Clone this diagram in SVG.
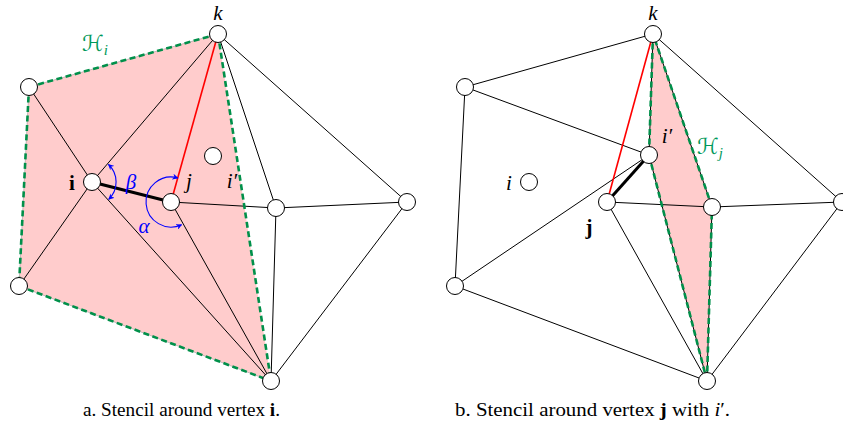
<svg xmlns="http://www.w3.org/2000/svg" width="843" height="428" viewBox="0 0 843 428">
<style>
.e{stroke:#000;stroke-width:1;fill:none}
.th{stroke:#000;stroke-width:3;fill:none}
.rd{stroke:#ff0000;stroke-width:1.6;fill:none}
.hd{stroke:#00904a;stroke-width:2.6;stroke-dasharray:6 3.5;fill:none}
.hu{stroke:#999;stroke-width:0.6;fill:none}
.fill{fill:#ffcccc;stroke:none}
.arc{stroke:#0000ff;stroke-width:1.1;fill:none;marker-start:url(#ah);marker-end:url(#ah)}
.n{fill:#fff;stroke:#000;stroke-width:1}
.t{font-family:"Liberation Serif",serif;font-size:21px;fill:#000}
.it{font-style:italic}
.b{font-weight:bold}
.bl{fill:#0000ff}
.h{font-family:"DejaVu Serif","DejaVu Sans",serif;font-size:22px;fill:#00995a;font-style:italic}
.hs{font-family:"Liberation Serif",serif;font-style:italic;font-size:15px;fill:#00995a}
.cap{font-family:"Liberation Serif",serif;font-size:18.5px;fill:#000}
</style>
<defs>
<marker id="ah" viewBox="0 0 10 10" refX="9" refY="5" markerWidth="6" markerHeight="6" markerUnits="userSpaceOnUse" orient="auto-start-reverse">
<path d="M0,0 L10,5 L0,10 L3,5 Z" fill="#0000ff"/>
</marker>
</defs>

<g id="fills">
<polygon class="fill" points="29,87 218,34 271,381 19,286"/>
<polygon class="fill" points="653,34 649,155 707,381 712,207"/>
</g>

<g id="connectors">
<!-- left figure -->
<line class="e" x1="29" y1="87" x2="92" y2="182"/>
<line class="e" x1="92" y1="182" x2="218" y2="34"/>
<line class="e" x1="92" y1="182" x2="19" y2="286"/>
<line class="e" x1="92" y1="182" x2="271" y2="381"/>
<line class="e" x1="171" y1="202" x2="271" y2="381"/>
<line class="e" x1="171" y1="202" x2="276" y2="208"/>
<line class="e" x1="218" y1="34" x2="276" y2="208"/>
<line class="e" x1="218" y1="34" x2="407" y2="202"/>
<line class="e" x1="276" y1="208" x2="407" y2="202"/>
<line class="e" x1="276" y1="208" x2="271" y2="381"/>
<line class="e" x1="407" y1="202" x2="271" y2="381"/>
<line class="hu" x1="29" y1="87" x2="218" y2="34"/>
<line class="hu" x1="29" y1="87" x2="19" y2="286"/>
<line class="hu" x1="19" y1="286" x2="271" y2="381"/>
<line class="hd" x1="29" y1="87" x2="218" y2="34"/>
<line class="hd" x1="29" y1="87" x2="19" y2="286"/>
<line class="hd" x1="19" y1="286" x2="271" y2="381"/>
<line class="hd" x1="218" y1="34" x2="271" y2="381"/>
<line class="rd" x1="171" y1="202" x2="218" y2="34"/>
<line class="th" x1="92" y1="182" x2="171" y2="202"/>
<path class="arc" d="M108.4,164.4 A24,24 0 0 1 108.7,199.3"/>
<path class="arc" d="M177.9,178 A25,25 0 1 0 181.6,224.7"/>
<!-- right figure -->
<line class="e" x1="465" y1="87" x2="653" y2="34"/>
<line class="e" x1="465" y1="87" x2="455" y2="286"/>
<line class="e" x1="455" y1="286" x2="707" y2="381"/>
<line class="e" x1="465" y1="87" x2="649" y2="155"/>
<line class="e" x1="649" y1="155" x2="455" y2="286"/>
<line class="e" x1="607" y1="202" x2="712" y2="207"/>
<line class="e" x1="607" y1="202" x2="707" y2="381"/>
<line class="e" x1="653" y1="34" x2="842" y2="202"/>
<line class="e" x1="712" y1="207" x2="842" y2="202"/>
<line class="e" x1="842" y1="202" x2="707" y2="381"/>
<line class="e" x1="653" y1="34" x2="649" y2="155"/>
<line class="e" x1="649" y1="155" x2="707" y2="381"/>
<line class="e" x1="707" y1="381" x2="712" y2="207"/>
<line class="e" x1="712" y1="207" x2="653" y2="34"/>
<line class="hd" x1="653" y1="34" x2="649" y2="155"/>
<line class="hd" x1="649" y1="155" x2="707" y2="381"/>
<line class="hd" x1="707" y1="381" x2="712" y2="207"/>
<line class="hd" x1="712" y1="207" x2="653" y2="34"/>
<line class="rd" x1="607" y1="202" x2="653" y2="34"/>
<line class="th" x1="649" y1="155" x2="607" y2="202"/>
</g>

<g id="nodes-left">
<g id="a-k"><circle class="n" cx="218" cy="34" r="8.5"/></g>
<g id="a-tl"><circle class="n" cx="29" cy="87" r="8.5"/></g>
<g id="a-i"><circle class="n" cx="92" cy="182" r="8.5"/></g>
<g id="a-j"><circle class="n" cx="171" cy="202" r="8.5"/></g>
<g id="a-ip"><circle class="n" cx="213" cy="156" r="8.5"/></g>
<g id="a-mid"><circle class="n" cx="276" cy="208" r="8.5"/></g>
<g id="a-fr"><circle class="n" cx="407" cy="202" r="8.5"/></g>
<g id="a-bl"><circle class="n" cx="19" cy="286" r="8.5"/></g>
<g id="a-bot"><circle class="n" cx="271" cy="381" r="8.5"/></g>
</g>
<g id="nodes-right">
<g id="b-k"><circle class="n" cx="653" cy="34" r="8.5"/></g>
<g id="b-tl"><circle class="n" cx="465" cy="87" r="8.5"/></g>
<g id="b-i"><circle class="n" cx="529" cy="182" r="8.5"/></g>
<g id="b-j"><circle class="n" cx="607" cy="202" r="8.5"/></g>
<g id="b-ip"><circle class="n" cx="649" cy="155" r="8.5"/></g>
<g id="b-mid"><circle class="n" cx="712" cy="207" r="8.5"/></g>
<g id="b-fr"><circle class="n" cx="842" cy="202" r="8.5"/></g>
<g id="b-bl"><circle class="n" cx="455" cy="286" r="8.5"/></g>
<g id="b-bot"><circle class="n" cx="707" cy="381" r="8.5"/></g>
</g>

<g id="labels">
<text class="t it" x="218" y="20" text-anchor="middle">k</text>
<text class="h" x="82" y="51">ℋ<tspan class="hs" dy="4">i</tspan></text>
<text class="t b" x="72" y="190" text-anchor="middle">i</text>
<text class="t it bl" x="131" y="189" text-anchor="middle">β</text>
<text class="t it bl" x="144" y="233" text-anchor="middle">α</text>
<text class="t it" x="189" y="188" text-anchor="middle">j</text>
<text class="t it" x="232" y="188" text-anchor="middle">i′</text>

<text class="t it" x="653" y="20" text-anchor="middle">k</text>
<text class="t it" x="667" y="143" text-anchor="middle">i′</text>
<text class="h" x="697" y="154">ℋ<tspan class="hs" dy="4">j</tspan></text>
<text class="t it" x="509" y="190" text-anchor="middle">i</text>
<text class="t b" x="589" y="234" text-anchor="middle">j</text>

<text class="cap" x="83" y="416" textLength="197" lengthAdjust="spacingAndGlyphs">a.  Stencil around vertex <tspan class="b">i</tspan>.</text>
<text class="cap" x="455" y="416" textLength="275" lengthAdjust="spacingAndGlyphs">b.  Stencil around vertex <tspan class="b">j</tspan> with <tspan class="it">i</tspan>′.</text>
</g>
</svg>
